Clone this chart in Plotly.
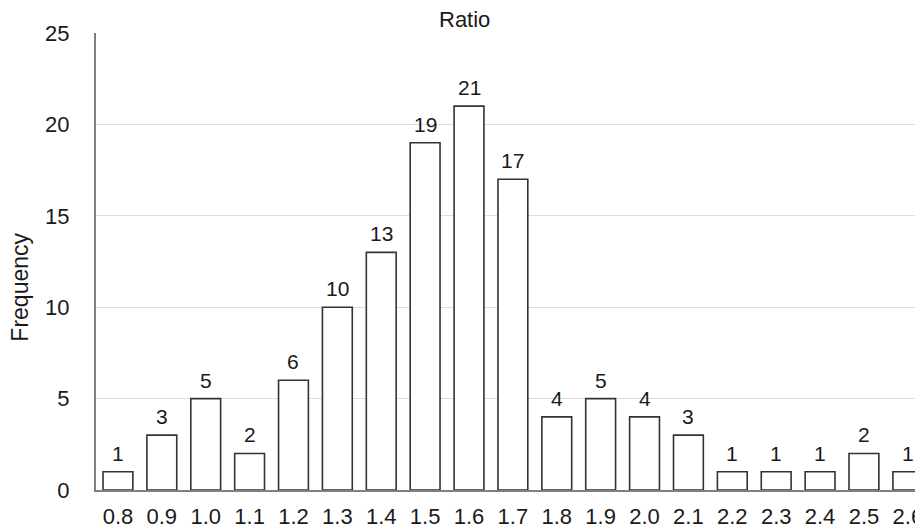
import plotly.graph_objects as go

categories = ["0.8", "0.9", "1.0", "1.1", "1.2", "1.3", "1.4", "1.5", "1.6", "1.7",
              "1.8", "1.9", "2.0", "2.1", "2.2", "2.3", "2.4", "2.5", "2.6"]
frequency = [1, 3, 5, 2, 6, 10, 13, 19, 21, 17, 4, 5, 4, 3, 1, 1, 1, 2, 1]
y_ticks = [0, 5, 10, 15, 20, 25]

font = "Liberation Sans, Arial, sans-serif"
txt = "#1a1a1a"

# page body has an 8px offset; figure sized so the plot area lands where the reference has it
W, H = 915, 521
L, T, B = 88, 25, 38
PW, PH = W - L, H - T - B

fig = go.Figure()
fig.add_trace(go.Bar(
    x=list(range(len(categories))),
    y=frequency,
    marker=dict(color="white", line=dict(color="#333333", width=1.6)),
    width=0.68,
    cliponaxis=False,
))

for i, v in enumerate(frequency):
    fig.add_annotation(x=i, y=v, text=str(v), showarrow=False,
                       yanchor="bottom", yshift=5,
                       font=dict(family=font, size=21, color=txt))

fig.add_annotation(xref="paper", x=(465 - 8 - L) / PW, y=1, yref="paper", text="Ratio",
                   showarrow=False, yanchor="bottom", xanchor="center", yshift=-1,
                   font=dict(family=font, size=22, color=txt))

# y-axis title, placed where the reference has it (slightly below plot centre)
fig.add_annotation(xref="paper", x=(20 - 8 - L) / PW, yref="paper", y=(H - B - (288 - 8)) / PH,
                   text="Frequency", textangle=-90, showarrow=False,
                   xanchor="center", yanchor="middle",
                   font=dict(family=font, size=23, color=txt))

fig.update_layout(
    width=W, height=H,
    margin=dict(l=L, r=0, t=T, b=B),
    plot_bgcolor="white", paper_bgcolor="white",
    showlegend=False,
    font=dict(family=font, color=txt),
)

fig.update_xaxes(
    range=[-0.5, 18.3],
    tickmode="array", tickvals=list(range(len(categories))), ticktext=categories,
    tickfont=dict(family=font, size=22, color=txt),
    showline=True, linecolor="#808080", linewidth=2,
    showgrid=False, ticks="", ticklabelstandoff=6,
    ticklabeloverflow="allow",
)
fig.update_yaxes(
    range=[0, 25], tickvals=y_ticks,
    tickfont=dict(family=font, size=22, color=txt),
    showline=True, linecolor="#808080", linewidth=2,
    showgrid=True, gridcolor="#dddddd", gridwidth=1,
    zeroline=False, ticks="", ticklabelstandoff=20,
)

fig.write_html("out.html")
